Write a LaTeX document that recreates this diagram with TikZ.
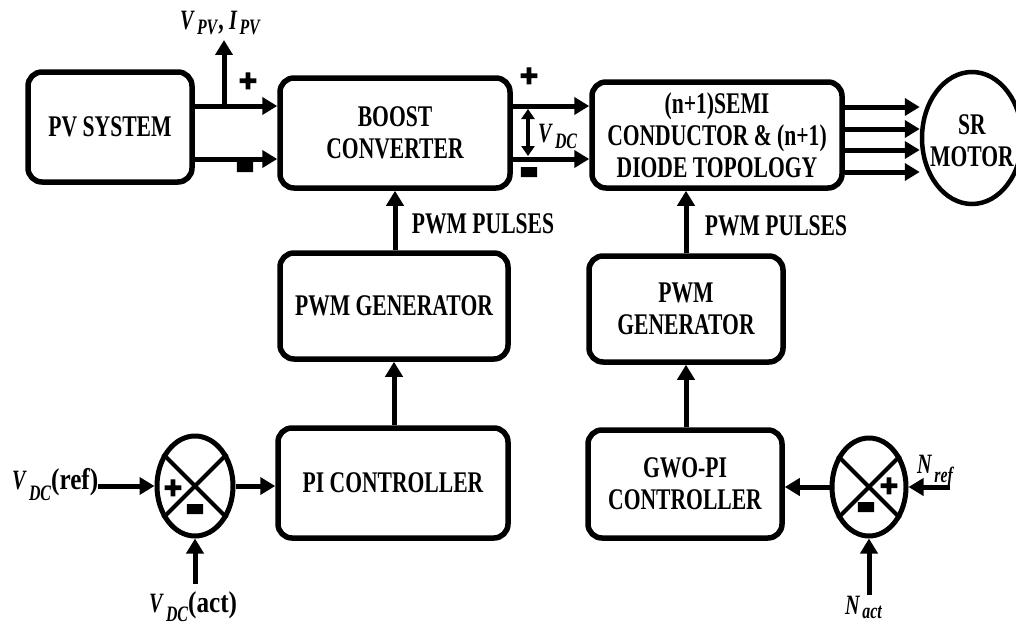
\documentclass[tikz,border=0pt]{standalone}
\usepackage{fontspec}
\usepackage{graphicx}
\setmainfont{Liberation Serif}[FakeStretch=0.72]
\newfontfamily\lblfont{Liberation Serif}[FakeStretch=0.84]
\newfontfamily\signfont{Liberation Sans}[FakeBold=4]
\usetikzlibrary{arrows.meta,shapes.geometric,calc}
\newcommand{\lbl}[3][8pt]{{\fontsize{28}{28}\selectfont\textit{#2}}\kern2pt\raisebox{-#1}{\fontsize{22}{22}\selectfont\textit{#3}}}
\newcommand{\plussign}{{\signfont\bfseries\fontsize{31}{31}\selectfont +}}
\newcommand{\minussign}{{\signfont\bfseries\fontsize{30}{30}\selectfont\scalebox{1}[2.4]{\textendash}}}
\tikzset{
  blk/.style={draw, line width=5.5pt, rounded corners=14pt, align=center, inner sep=0pt},
  arr/.style={line width=5pt, -{Triangle[length=15pt,width=17pt]}},
  dbl/.style={line width=3.5pt, {Triangle[length=10pt,width=13pt]}-{Triangle[length=10pt,width=13pt]}},
  sumj/.style={draw, ellipse, line width=5pt, inner sep=0pt},
  xline/.style={line width=4pt},
  sgn/.style={inner sep=0pt},
  lab/.style={anchor=base west, inner sep=0pt}
}
\begin{document}
\begin{tikzpicture}[x=1pt,y=-1pt,font=\fontsize{30}{32}\selectfont\bfseries]
\fill[white] (0,0) rectangle (1016,626);
\useasboundingbox (0,0) rectangle (1016,626);

% blocks
\node[blk, minimum width=164pt, minimum height=110pt] (pv) at (110,127) {PV SYSTEM};
\node[blk, minimum width=230pt, minimum height=110pt] (boost) at (395,133) {BOOST\\CONVERTER};
\node[blk, minimum width=250pt, minimum height=106pt] (semi) at (717,135) {(n+1)SEMI\\CONDUCTOR \& (n+1)\\DIODE TOPOLOGY};
\node[draw, ellipse, line width=4.5pt, minimum width=100pt, minimum height=132pt, inner sep=0pt] (motor) at (972,138) {};
\node[align=center, inner sep=0pt] (mtxt) at (972,141) {SR\\MOTOR};
\node[blk, minimum width=228pt, minimum height=106pt] (pwmL) at (394,306) {PWM GENERATOR};
\node[blk, minimum width=194pt, minimum height=106pt] (pwmR) at (686,309) {PWM\\GENERATOR};
\node[blk, minimum width=230pt, minimum height=110pt] (pi) at (393,483) {PI CONTROLLER};
\node[blk, minimum width=194pt, minimum height=108pt] (gwo) at (685,484) {GWO-PI\\CONTROLLER};

% summing junctions
\node[sumj, minimum width=76pt, minimum height=100pt] (sumL) at (195,486) {};
\draw[xline] (sumL.135) -- (sumL.-45);
\draw[xline] (sumL.45) -- (sumL.-135);
\node[sgn] (sLp) at (173,489) {\plussign};
\node[sgn] (sLm) at (195,517) {\minussign};

\node[sumj, minimum width=74pt, minimum height=98pt] (sumR) at (869,487) {};
\draw[xline] (sumR.135) -- (sumR.-45);
\draw[xline] (sumR.45) -- (sumR.-135);
\node[sgn] (sRp) at (889,487) {\plussign};
\node[sgn] (sRm) at (866,515) {\minussign};

% levels
\coordinate (Lt) at (0,106);
\coordinate (Lb) at (0,159);

% PV -> boost
\draw[arr] (pv.east |- Lt) -- (boost.west |- Lt);
\draw[arr] (pv.east |- Lb) -- (boost.west |- Lb);
\node[lab] (vpv) at (180,30) {\lbl[5pt]{V}{PV}, \lbl[5pt]{I}{PV}};
\coordinate (br) at (224,106);
\coordinate (brt) at (224,40);
\draw[arr] (br) -- (brt);
\node[sgn] (p1) at (248,82) {\plussign};
\node[sgn] (m1) at (245,175) {\minussign};

% boost -> semi
\draw[arr] (boost.east |- Lt) -- (semi.west |- Lt);
\draw[arr] (boost.east |- Lb) -- (semi.west |- Lb);
\coordinate (vdt) at (528,109);
\coordinate (vdb) at (528,156);
\draw[dbl] (vdt) -- (vdb);
\node[lab] (vdc) at (538,142) {\lbl[6pt]{V}{DC}};
\node[sgn] (p2) at (529,77) {\plussign};
\node[sgn] (m2) at (529,180) {\minussign};

% semi -> motor
\foreach \yy/\nm in {107/a,129/b,150/c,172/d}{
  \coordinate (m\nm) at (0,\yy);
  \draw[arr] (semi.east |- m\nm) -- (motor.west |- m\nm);
}

% vertical paths left
\draw[arr] (pwmL.north -| boost.south) -- (boost.south);
\node (pp1) at (483,224) {PWM PULSES};
\draw[arr] (pi.north -| pwmL.south) -- (pwmL.south);

% vertical paths right
\draw[arr] (pwmR.north) -- (pwmR.north |- semi.south);
\node (pp2) at (776,226) {PWM PULSES};
\draw[arr] (gwo.north -| pwmR.south) -- (pwmR.south);

% left control loop
\node[lab] (vref) at (12,489) {\lbl[11pt]{V}{DC}{\lblfont (ref)}};
\draw[arr] (vref.east |- sumL.west) -- (sumL.west);
\draw[arr] (sumL.east) -- (sumL.east -| pi.west);
\node[lab] (vact) at (149,612) {\lbl[9pt]{V}{DC}{\lblfont (act)}};
\coordinate (vacts) at (195,584);
\draw[arr] (vacts) -- (sumL.south);

% right control loop
\node[lab] (nref) at (917,473) {\lbl[9pt]{N}{ref}};
\coordinate (nrefs) at (950,487);
\draw[arr] (nrefs) -- (sumR.east |- nrefs);
\draw[arr] (sumR.west |- nrefs) -- (gwo.east |- nrefs);
\node[lab] (nact) at (845,614) {\lbl[4pt]{N}{act}};
\coordinate (nacts) at (869,595);
\draw[arr] (nacts) -- (sumR.south);
\end{tikzpicture}
\end{document}
